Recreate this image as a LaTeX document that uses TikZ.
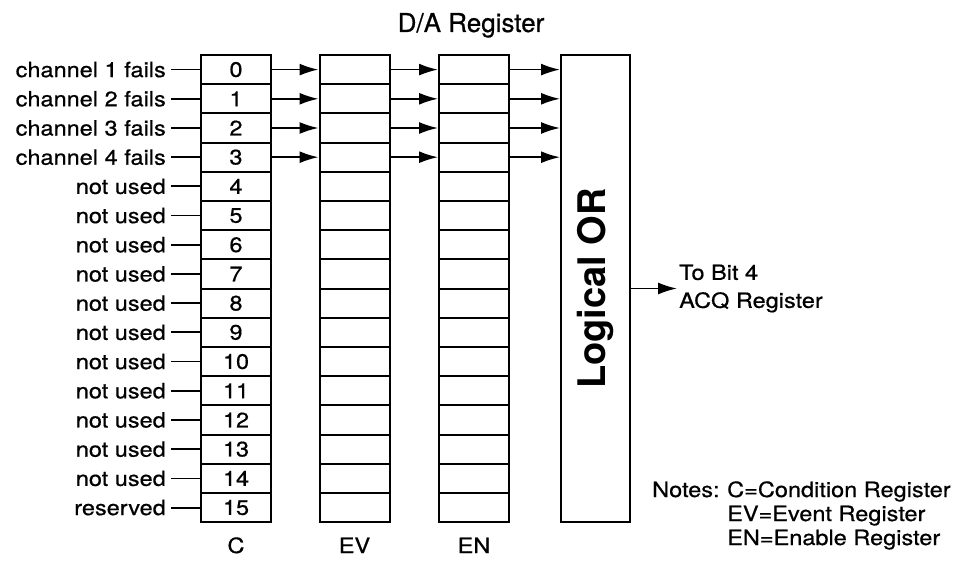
\documentclass[tikz,border=0pt]{standalone}
\usepackage{fontspec}
\setmainfont{TeX Gyre Heros}
\newfontfamily\lblfont{TeX Gyre Heros}[FakeStretch=1.12,FakeBold=0.6]
\newfontfamily\ttlfont{TeX Gyre Heros}[FakeBold=0.6]
\usetikzlibrary{arrows.meta}

\begin{document}
\begin{tikzpicture}[x=1pt,y=-1pt,
    reg/.style={draw,line width=2pt,minimum width=70pt,minimum height=29.2pt,inner sep=0pt,
      font=\lblfont\fontsize{21}{24}\selectfont},
    lbl/.style={font=\lblfont\fontsize{21}{24}\selectfont,inner sep=2pt},
    arr/.style={line width=1.8pt,-{Latex[length=19pt,width=12pt]}}]
        % Frame
        \useasboundingbox (0,0) rectangle (967,561);
        % Title
        \node[font=\ttlfont\fontsize{26}{30}\selectfont,anchor=base] (title) at (471,32) {D/A Register};
        % Registers
        \foreach \i in {0,...,15} {
          \node[reg] (c\i) at (236,{69.6+29.2*\i}) {\i};
          \node[reg] (ev\i) at (354.5,{69.6+29.2*\i}) {};
          \node[reg] (en\i) at (474,{69.6+29.2*\i}) {};
        }
        \node[draw,line width=2pt,minimum width=69pt,minimum height=467pt,inner sep=0pt] (or) at (595.5,288.5) {};
        \node[rotate=90,font=\bfseries\fontsize{38}{40}\selectfont] (ortxt) at (or.center) {Logical OR};
        % Inputs
        \foreach \i/\txt in {0/channel 1 fails,1/channel 2 fails,2/channel 3 fails,3/channel 4 fails,
            4/not used,5/not used,6/not used,7/not used,8/not used,9/not used,10/not used,
            11/not used,12/not used,13/not used,14/not used,15/reserved} {
          \node[lbl,anchor=east,inner xsep=5pt] (in\i) at (171,{69.6+29.2*\i}) {\txt};
          \draw[line width=1.8pt] (in\i) -- (c\i);
        }
        % Arrows
        \foreach \i in {0,...,3} {
          \draw[arr] (c\i) -- (ev\i);
          \draw[arr] (ev\i) -- (en\i);
          \draw[arr] (en\i) -- (en\i -| or.west);
        }
        % Output
        \draw[arr] (or.east) -- ++(46,0) coordinate (out);
        \node[lbl,anchor=west,align=left,font=\lblfont\fontsize{21}{28}\selectfont] (acq) at (out) {To Bit 4\\ACQ Register};
        % Column labels
        \node[lbl,anchor=base] (lblC) at (236,553) {C};
        \node[lbl,anchor=base] (lblEV) at (354.5,553) {EV};
        \node[lbl,anchor=base] (lblEN) at (474,553) {EN};
        % Notes
        \node[lbl,anchor=base west,inner sep=0pt] (notes) at (652,497) {Notes:};
        \node[lbl,anchor=base west,inner sep=0pt] (noteC) at (727,497) {C=Condition Register};
        \node[lbl,anchor=base west,inner sep=0pt] (noteEV) at (727,521) {EV=Event Register};
        \node[lbl,anchor=base west,inner sep=0pt] (noteEN) at (727,545) {EN=Enable Register};
\end{tikzpicture}
\end{document}
